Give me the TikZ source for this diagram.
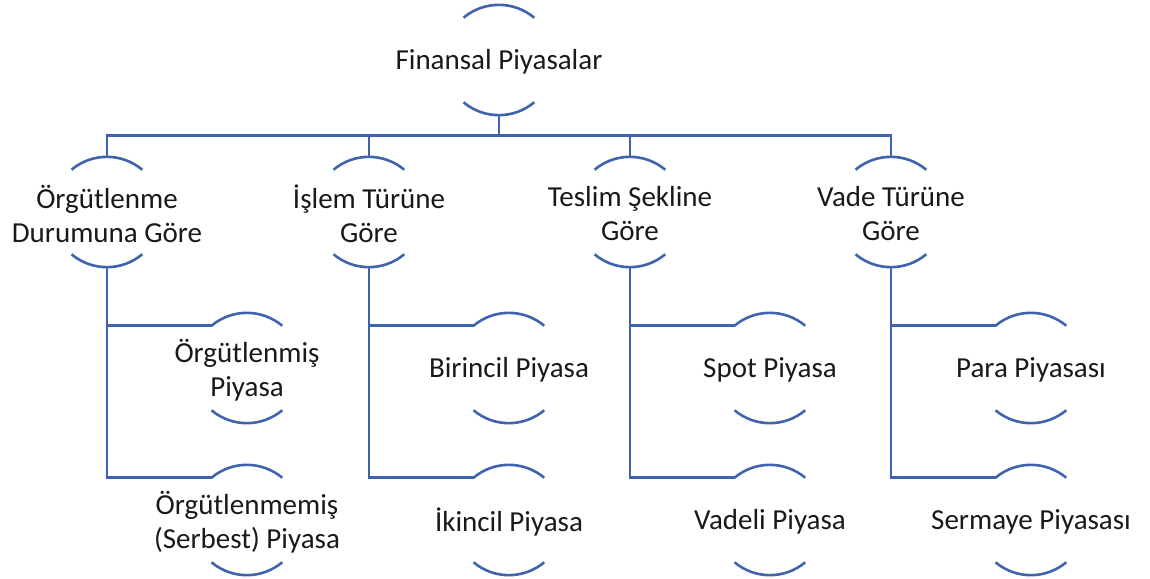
\documentclass[tikz,border=0pt]{standalone}
\usepackage{fontspec}
\setmainfont{Carlito}
\usetikzlibrary{calc}
\definecolor{arcblue}{RGB}{63,99,172}

% ring: an empty circle whose two arcs frame the text
\tikzset{
  ring/.style={circle, minimum size=110pt, inner sep=0pt, draw=none},
  lbl/.style={align=center, font=\fontsize{29}{34}\selectfont, text=black!90},
  link/.style={draw=arcblue, line width=2.6pt},
  rim/.style={draw=arcblue, line width=2.6pt},
}
% \ringnode{name}{x}{y}{text}
\newcommand{\ringnode}[4]{%
  \node[ring] (#1) at (#2pt,#3pt) {};
  \node[lbl] (#1-t) at ($(#1.center)+(0,-2)$) {#4};
  \draw[rim] (#1.130) arc[start angle=130, end angle=50, radius=55pt];
  \draw[rim] (#1.230) arc[start angle=230, end angle=310, radius=55pt];
}

\begin{document}
\begin{tikzpicture}[x=1pt,y=1pt]
\useasboundingbox (0,0) rectangle (1150,-578);

\ringnode{root}{499}{-60}{Finansal Piyasalar}

\ringnode{org}{107}{-212}{Örgütlenme\\Durumuna Göre}
\ringnode{isl}{369}{-212}{İşlem Türüne\\Göre}
\ringnode{tes}{630}{-212}{Teslim Şekline\\Göre}
\ringnode{vad}{891}{-212}{Vade Türüne\\Göre}

\ringnode{org1}{247}{-368}{Örgütlenmiş\\Piyasa}
\ringnode{org2}{247}{-520}{Örgütlenmemiş\\(Serbest) Piyasa}
\ringnode{isl1}{509}{-368}{Birincil Piyasa}
\ringnode{isl2}{509}{-520}{İkincil Piyasa}
\ringnode{tes1}{770}{-368}{Spot Piyasa}
\ringnode{tes2}{770}{-520}{Vadeli Piyasa}
\ringnode{vad1}{1031}{-368}{Para Piyasası}
\ringnode{vad2}{1031}{-520}{Sermaye Piyasası}

% bus under the root
\coordinate (bus) at ($(root.south)+(0,-20)$);
\draw[link] (root.south) -- (bus);
\foreach \n in {org,isl,tes,vad}
  \draw[link] (bus) -| (\n.north);

% branches to the children
\foreach \n in {org,isl,tes,vad}{
  \draw[link] (\n.south) |- (\n1.130);
  \draw[link] (\n.south) |- (\n2.130);
}
\end{tikzpicture}
\end{document}
